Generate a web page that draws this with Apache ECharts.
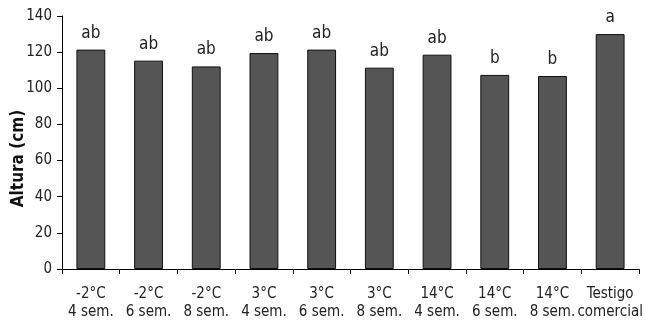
<!DOCTYPE html>
<html><head><meta charset="utf-8">
<script src="https://cdn.jsdelivr.net/npm/echarts@6/dist/echarts.min.js"></script>
<style>html,body{margin:0;padding:0;background:#fff}#c{width:646px;height:330px}</style>
</head><body><div id="c"></div>
<script>
const categories = ['-2°C\n4 sem.','-2°C\n6 sem.','-2°C\n8 sem.','3°C\n4 sem.','3°C\n6 sem.','3°C\n8 sem.','14°C\n4 sem.','14°C\n6 sem.','14°C\n8 sem.','Testigo\ncomercial'];
const heights = [121.4, 115.3, 112.1, 119.5, 121.4, 111.4, 118.6, 107.4, 106.8, 130.0];
const letters = ['ab','ab','ab','ab','ab','ab','ab','b','b','a'];
const yTicks = [0, 20, 40, 60, 80, 100, 120, 140];
const FONT = '"Liberation Sans Narrow","DejaVu Sans Condensed",sans-serif';
const chart = echarts.init(document.getElementById('c'));
chart.setOption({
  animation: false,
  grid: {left: 62, right: 7, top: 16, bottom: 61, containLabel: false, outerBoundsMode: 'none'},
  xAxis: {
    type: 'category', data: categories,
    axisLine: {lineStyle: {color: '#000', width: 1}},
    axisTick: {show: true, length: 5, lineStyle: {color: '#000'}},
    axisLabel: {color: '#222', fontFamily: FONT, fontSize: 15, lineHeight: 18, margin: 16, interval: 0, hideOverlap: false}
  },
  yAxis: {
    type: 'value', min: yTicks[0], max: yTicks[yTicks.length-1], interval: 20,
    name: 'Altura (cm)', nameLocation: 'middle', nameGap: 35, nameMoveOverlap: false,
    nameTextStyle: {fontFamily: FONT, fontSize: 17, fontWeight: 'bold', color: '#111', padding: [0, 32, 0, 0]},
    axisLine: {show: true, lineStyle: {color: '#000', width: 1}},
    axisTick: {show: true, length: 5, lineStyle: {color: '#000'}},
    axisLabel: {color: '#222', fontFamily: FONT, fontSize: 15, margin: 10},
    splitLine: {show: false}
  },
  series: [{
    type: 'bar',
    data: heights,
    barWidth: '50%',
    itemStyle: {color: '#555555', borderColor: '#111', borderWidth: 1},
    label: {
      show: true, position: 'top', distance: 8,
      formatter: p => letters[p.dataIndex],
      fontFamily: FONT, fontSize: 17, color: '#222'
    }
  }]
});
</script></body></html>
